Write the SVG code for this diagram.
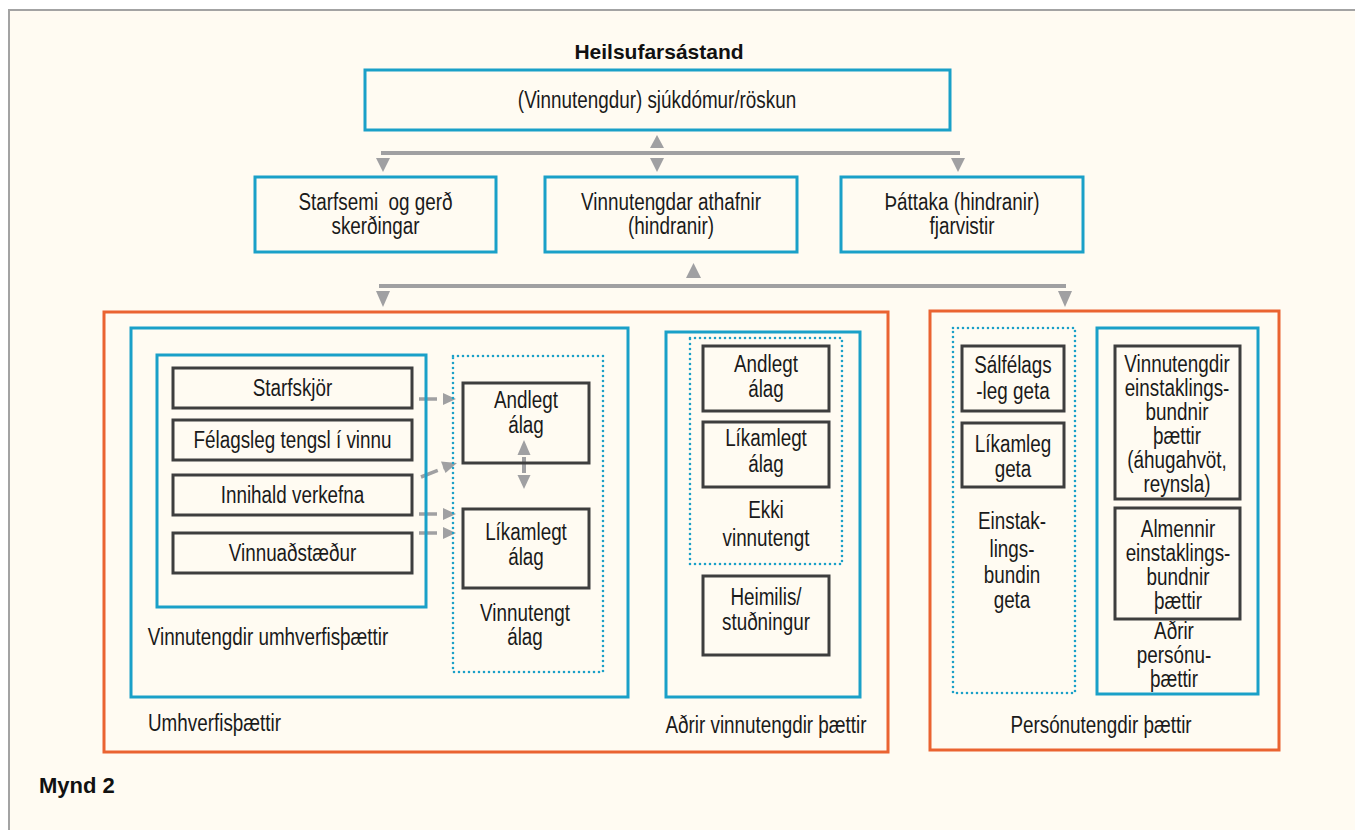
<svg xmlns="http://www.w3.org/2000/svg" width="1355" height="830" viewBox="0 0 1355 830">
<defs>
<style>
.t{font-family:"Liberation Sans","Arial",sans-serif;font-size:23px;fill:#1a1a1a;text-anchor:middle}
.b{font-family:"Liberation Sans","Arial",sans-serif;font-weight:bold;fill:#111}
.blue{fill:none;stroke:#1aa0c8;stroke-width:3}
.org{fill:none;stroke:#ea6331;stroke-width:3}
.dk{fill:none;stroke:#3e3e3e;stroke-width:3}
.dot{fill:none;stroke:#1aa0c8;stroke-width:2.6;stroke-dasharray:0 5;stroke-linecap:round}
.ar{fill:#a0a0a2}
.ln{stroke:#a0a0a2;stroke-width:4;fill:none}
.dl{stroke:#a0a0a2;stroke-width:3.5;fill:none;stroke-dasharray:18 6}
</style>
</defs>
<rect x="0" y="0" width="1355" height="830" fill="#ffffff"/>
<rect x="9" y="10" width="1400" height="900" fill="#fffbf2" stroke="#a3a3a3" stroke-width="2"/>

<text class="b" x="659" y="59" font-size="21" text-anchor="middle">Heilsufarsástand</text>

<g id="connectors">
<polygon class="ar" points="657,135 650,148 664,148"/>
<line class="ln" x1="381" y1="153" x2="960" y2="153"/>
<polygon class="ar" points="376,158 390,158 383,172"/>
<polygon class="ar" points="650,158 664,158 657,172"/>
<polygon class="ar" points="951,158 965,158 958,172"/>
<polygon class="ar" points="693.5,263 686,278 701,278"/>
<line class="ln" x1="379" y1="286" x2="1066" y2="286"/>
<polygon class="ar" points="376,291 390,291 383,307"/>
<polygon class="ar" points="1058,291 1072,291 1065,307"/>
<line class="dl" x1="419" y1="399" x2="443" y2="399"/>
<polygon class="ar" points="456,399 443,393 443,405"/>
<line class="dl" x1="421" y1="477" x2="444" y2="468"/>
<polygon class="ar" points="457,463 441,461.5 445.5,473"/>
<line class="dl" x1="419" y1="514" x2="443" y2="514"/>
<polygon class="ar" points="456,514 443,508 443,520"/>
<line class="dl" x1="419" y1="533" x2="443" y2="533"/>
<polygon class="ar" points="456,533 443,527 443,539"/>
<polygon class="ar" points="524,440 517.5,455 530.5,455"/>
<line class="ln" x1="524" y1="457" x2="524" y2="473" stroke-width="3"/>
<polygon class="ar" points="517.5,475 530.5,475 524,489"/>
</g>

<g id="n-top">
<rect class="blue" x="365" y="70" width="585" height="60"/>
<text class="t" x="0" y="108" transform="matrix(.82 0 0 1 657 0)">(Vinnutengdur) sjúkdómur/röskun</text>
</g>
<g id="n-starfsemi">
<rect class="blue" x="255" y="177" width="241" height="75"/>
<text class="t" x="0" y="210" transform="matrix(.82 0 0 1 375.5 0)" xml:space="preserve">Starfsemi  og gerð</text>
<text class="t" x="0" y="234" transform="matrix(.82 0 0 1 375.5 0)">skerðingar</text>
</g>
<g id="n-athafnir">
<rect class="blue" x="545" y="177" width="252" height="75"/>
<text class="t" x="0" y="210" transform="matrix(.82 0 0 1 671 0)">Vinnutengdar athafnir</text>
<text class="t" x="0" y="234" transform="matrix(.82 0 0 1 671 0)">(hindranir)</text>
</g>
<g id="n-thattaka">
<rect class="blue" x="841" y="177" width="242" height="75"/>
<text class="t" x="0" y="210" transform="matrix(.82 0 0 1 962 0)">Þáttaka (hindranir)</text>
<text class="t" x="0" y="234" transform="matrix(.82 0 0 1 962 0)">fjarvistir</text>
</g>

<g id="n-umhverfis">
<rect class="org" x="104" y="312" width="784" height="440"/>
<text class="t" x="0" y="731" transform="matrix(.82 0 0 1 214.5 0)">Umhverfisþættir</text>
</g>
<g id="n-vinnutengdir-umhverfis">
<rect class="blue" x="131" y="328" width="497" height="369"/>
<text class="t" x="0" y="645" transform="matrix(.82 0 0 1 268 0)">Vinnutengdir umhverfisþættir</text>
</g>
<g id="n-inner">
<rect class="blue" x="157" y="355" width="269" height="252"/>
</g>
<g id="n-starfskjor">
<rect class="dk" x="173" y="368" width="239" height="40"/>
<text class="t" x="0" y="396" transform="matrix(.82 0 0 1 292.5 0)">Starfskjör</text>
</g>
<g id="n-felagsleg">
<rect class="dk" x="173" y="420" width="239" height="40"/>
<text class="t" x="0" y="448" transform="matrix(.82 0 0 1 292.5 0)">Félagsleg tengsl í vinnu</text>
</g>
<g id="n-innihald">
<rect class="dk" x="173" y="475" width="239" height="40"/>
<text class="t" x="0" y="503" transform="matrix(.82 0 0 1 292.5 0)">Innihald verkefna</text>
</g>
<g id="n-vinnuadstaedur">
<rect class="dk" x="173" y="533" width="239" height="40"/>
<text class="t" x="0" y="561" transform="matrix(.82 0 0 1 292.5 0)">Vinnuaðstæður</text>
</g>
<g id="n-vinnutengt-alag">
<rect class="dot" x="453" y="356" width="150" height="316"/>
<text class="t" x="0" y="621" transform="matrix(.82 0 0 1 525 0)">Vinnutengt</text>
<text class="t" x="0" y="645" transform="matrix(.82 0 0 1 525 0)">álag</text>
</g>
<g id="n-andlegt1">
<rect class="dk" x="463" y="383" width="126" height="80"/>
<text class="t" x="0" y="408" transform="matrix(.82 0 0 1 526 0)">Andlegt</text>
<text class="t" x="0" y="433" transform="matrix(.82 0 0 1 526 0)">álag</text>
</g>
<g id="n-likamlegt1">
<rect class="dk" x="463" y="509" width="126" height="79"/>
<text class="t" x="0" y="540" transform="matrix(.82 0 0 1 526 0)">Líkamlegt</text>
<text class="t" x="0" y="565" transform="matrix(.82 0 0 1 526 0)">álag</text>
</g>

<g id="n-adrir-vinnutengdir">
<rect class="blue" x="666" y="332" width="194" height="365"/>
<text class="t" x="0" y="733" transform="matrix(.82 0 0 1 766 0)">Aðrir vinnutengdir þættir</text>
</g>
<g id="n-ekki">
<rect class="dot" x="690" y="338" width="152" height="226"/>
<text class="t" x="0" y="518" transform="matrix(.82 0 0 1 766 0)">Ekki</text>
<text class="t" x="0" y="546" transform="matrix(.82 0 0 1 766 0)">vinnutengt</text>
</g>
<g id="n-andlegt2">
<rect class="dk" x="703" y="346" width="126" height="65"/>
<text class="t" x="0" y="372" transform="matrix(.82 0 0 1 766 0)">Andlegt</text>
<text class="t" x="0" y="397" transform="matrix(.82 0 0 1 766 0)">álag</text>
</g>
<g id="n-likamlegt2">
<rect class="dk" x="703" y="422" width="126" height="65"/>
<text class="t" x="0" y="446" transform="matrix(.82 0 0 1 766 0)">Líkamlegt</text>
<text class="t" x="0" y="472" transform="matrix(.82 0 0 1 766 0)">álag</text>
</g>
<g id="n-heimilis">
<rect class="dk" x="703" y="576" width="126" height="79"/>
<text class="t" x="0" y="605" transform="matrix(.82 0 0 1 766 0)">Heimilis/</text>
<text class="t" x="0" y="630" transform="matrix(.82 0 0 1 766 0)">stuðningur</text>
</g>

<g id="n-personutengdir">
<rect class="org" x="930" y="311" width="349" height="439"/>
<text class="t" x="0" y="733" transform="matrix(.82 0 0 1 1101 0)">Persónutengdir þættir</text>
</g>
<g id="n-einstaklingsbundin">
<rect class="dot" x="953" y="328" width="122" height="365"/>
<text class="t" x="0" y="529" transform="matrix(.82 0 0 1 1012 0)">Einstak-</text>
<text class="t" x="0" y="557" transform="matrix(.82 0 0 1 1012 0)">lings-</text>
<text class="t" x="0" y="583" transform="matrix(.82 0 0 1 1012 0)">bundin</text>
<text class="t" x="0" y="608" transform="matrix(.82 0 0 1 1012 0)">geta</text>
</g>
<g id="n-salfelags">
<rect class="dk" x="962" y="346" width="102" height="65"/>
<text class="t" x="0" y="373" transform="matrix(.82 0 0 1 1013 0)">Sálfélags</text>
<text class="t" x="0" y="399" transform="matrix(.82 0 0 1 1013 0)">-leg geta</text>
</g>
<g id="n-likamleg">
<rect class="dk" x="962" y="423" width="102" height="64"/>
<text class="t" x="0" y="452" transform="matrix(.82 0 0 1 1013 0)">Líkamleg</text>
<text class="t" x="0" y="477" transform="matrix(.82 0 0 1 1013 0)">geta</text>
</g>
<g id="n-adrir-persono">
<rect class="blue" x="1097" y="328" width="161" height="366"/>
<text class="t" x="0" y="639" font-size="22" transform="matrix(.82 0 0 1 1174 0)">Aðrir</text>
<text class="t" x="0" y="663" font-size="22" transform="matrix(.82 0 0 1 1174 0)">persónu-</text>
<text class="t" x="0" y="687" font-size="22" transform="matrix(.82 0 0 1 1174 0)">þættir</text>
</g>
<g id="n-vinnutengdir-einst">
<rect class="dk" x="1115" y="346" width="125" height="153"/>
<text class="t" x="0" y="372" transform="matrix(.82 0 0 1 1177 0)">Vinnutengdir</text>
<text class="t" x="0" y="396" transform="matrix(.82 0 0 1 1177 0)">einstaklings-</text>
<text class="t" x="0" y="420" transform="matrix(.82 0 0 1 1177 0)">bundnir</text>
<text class="t" x="0" y="444" transform="matrix(.82 0 0 1 1177 0)">þættir</text>
<text class="t" x="0" y="468" transform="matrix(.82 0 0 1 1177 0)">(áhugahvöt,</text>
<text class="t" x="0" y="492" transform="matrix(.82 0 0 1 1177 0)">reynsla)</text>
</g>
<g id="n-almennir">
<rect class="dk" x="1115" y="508" width="125" height="111"/>
<text class="t" x="0" y="537" transform="matrix(.82 0 0 1 1178 0)">Almennir</text>
<text class="t" x="0" y="561" transform="matrix(.82 0 0 1 1178 0)">einstaklings-</text>
<text class="t" x="0" y="585" transform="matrix(.82 0 0 1 1178 0)">bundnir</text>
<text class="t" x="0" y="609" transform="matrix(.82 0 0 1 1178 0)">þættir</text>
</g>

<text class="b" x="39" y="793" font-size="22">Mynd 2</text>
</svg>
